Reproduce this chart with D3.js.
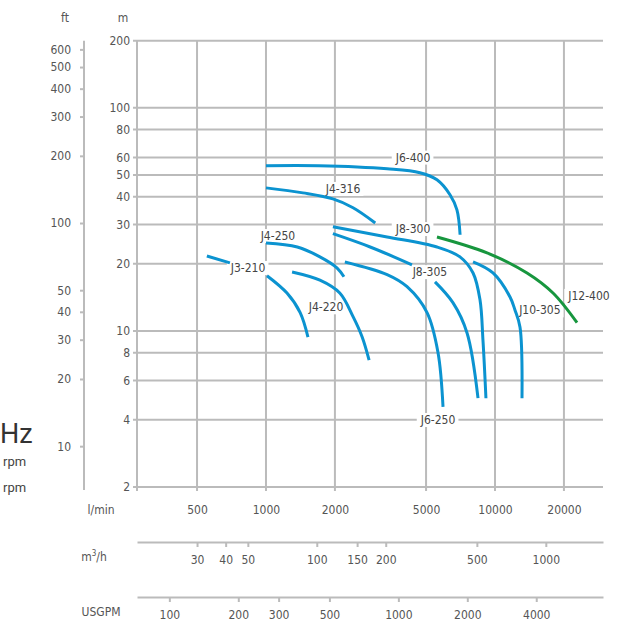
<!DOCTYPE html>
<html>
<head>
<meta charset="utf-8">
<script src="https://cdn.jsdelivr.net/npm/d3@7"></script>
<style>
  body { margin: 0; background: #fff; }
  text { font-family: "Liberation Sans Narrow", "DejaVu Sans Condensed", "Roboto Condensed", sans-serif; }
</style>
</head>
<body>
<script>
// tick values
const flowTicks = [500, 1000, 2000, 5000, 10000, 20000];        // l/min
const headTicks = [2, 4, 6, 8, 10, 20, 30, 40, 50, 60, 80, 100, 200]; // m
const feetTicks = [10, 20, 30, 40, 50, 100, 200, 300, 400, 500, 600];
const m3hTicks = [30, 40, 50, 100, 150, 200, 500, 1000];
const gpmTicks = [100, 200, 300, 500, 1000, 2000, 4000];

// pump curves, [l/min, m]
const j6_400 = [[1000, 55], [1700, 55], [3380, 53.3], [4700, 51.2], [5580, 47.6], [6360, 40.8], [6820, 34.9], [7040, 27]];
const j4_316 = [[1000, 43.8], [1450, 41.6], [1960, 39.1], [2400, 35.7], [3000, 30.5]];
const j4_250 = [[1000, 24.8], [1370, 23.8], [1720, 21.5], [2040, 19.2], [2190, 17.5]];
const j3_210a = [[552, 21.7], [696, 20.2]];
const j3_210b = [[1010, 17.7], [1235, 14.8], [1410, 12.1], [1525, 9.4]];
const j4_220 = [[1300, 18.4], [1720, 16.9], [2100, 14.8], [2400, 11.6], [2630, 9.4], [2820, 7.4]];
const j8_300 = [[1960, 29.3], [3380, 26.4], [5580, 23.8], [7030, 21.5], [8020, 18.2], [8600, 13.8], [8860, 9.1], [9130, 5.0]];
const j8_305a = [[1960, 27.3], [2850, 23.8], [4340, 19.8]];
const j8_305b = [[5470, 16.6], [6550, 13.4], [7550, 9.8], [8430, 5.0]];
const j6_250 = [[2210, 20.4], [3380, 17.9], [4130, 15.8], [5050, 12.1], [5640, 8.0], [5930, 4.57]];
const j10_305 = [[8020, 20.4], [9800, 18.2], [11630, 14.2], [12230, 12.4], [12860, 10.4], [13120, 5.0]];
const j12_400 = [[5580, 26.4], [9230, 22.4], [13800, 18.2], [17920, 14.8], [22810, 10.9]];

const blueCurves = [j6_400, j4_316, j4_250, j3_210a, j3_210b, j4_220, j8_300, j8_305a, j8_305b, j6_250, j10_305];
const greenCurves = [j12_400];

// curve names and where they sit, [name, l/min, m]
const curveLabels = [
  ['J6-400', 4385, 60], ['J4-316', 2170, 43.4], ['J4-250', 1128, 26.7],
  ['J3-210', 835, 19.2], ['J4-220', 1828, 12.8], ['J8-300', 4385, 28.7],
  ['J8-305', 5200, 18.4], ['J6-250', 5640, 4], ['J10-305', 15700, 12.4],
  ['J12-400', 25730, 14.4]
];

const W = 621, H = 630;
const svg = d3.select('body').append('svg').attr('width', W).attr('height', H);

const plotLeft = 137, plotRight = 603, plotTop = 40.7, plotBottom = 487;
const gridColor = '#bbbbbb';
const tickColor = '#555';
const fs = '12px';

const x = d3.scaleLog().domain([273.4, 29620]).range([plotLeft, plotRight]);
const y = d3.scaleLog().domain([2, 200]).range([plotBottom, plotTop]);
const yFt = d3.scaleLog().domain([2 / 0.3048, 200 / 0.3048]).range([plotBottom, plotTop]);
const xM3 = d3.scaleLog().domain(x.domain().map(q => q * 60 / 1000)).range(x.range());
const xGpm = d3.scaleLog().domain(x.domain().map(q => q / 3.785)).range(x.range());

// grid
const grid = svg.append('g');
grid.selectAll('.h').data(headTicks).enter().append('line')
  .attr('x1', plotLeft - 4).attr('x2', plotRight)
  .attr('y1', d => y(d)).attr('y2', d => y(d))
  .attr('stroke', gridColor).attr('stroke-width', 2);
grid.selectAll('.v').data(flowTicks).enter().append('line')
  .attr('x1', d => x(d)).attr('x2', d => x(d))
  .attr('y1', plotTop).attr('y2', plotBottom + 4)
  .attr('stroke', gridColor).attr('stroke-width', 2);
grid.append('line').attr('x1', plotLeft).attr('x2', plotLeft).attr('y1', plotTop).attr('y2', plotBottom + 4)
  .attr('stroke', gridColor).attr('stroke-width', 2);

function styleAxis(g) {
  g.selectAll('path.domain').attr('stroke', gridColor).attr('stroke-width', 2);
  g.selectAll('.tick line').attr('stroke', gridColor).attr('stroke-width', 2);
  g.selectAll('.tick text').attr('fill', tickColor).style('font-size', fs);
}

// m axis (labels only, grid already drawn)
const yAxisG = svg.append('g').attr('transform', `translate(${plotLeft},0)`)
  .call(d3.axisLeft(y).tickValues(headTicks).tickSize(0).tickPadding(7).tickFormat(d3.format('d')));
yAxisG.select('.domain').remove();
styleAxis(yAxisG);

// ft axis
const ftG = svg.append('g').attr('transform', 'translate(84,0)')
  .call(d3.axisLeft(yFt).tickValues(feetTicks).tickSize(4).tickPadding(9).tickFormat(d3.format('d')));
ftG.select('.domain').attr('d', `M0,${plotTop}V490`);
styleAxis(ftG);

// l/min axis
const xAxisG = svg.append('g').attr('transform', `translate(0,${plotBottom})`)
  .call(d3.axisBottom(x).tickValues(flowTicks).tickSize(0).tickPadding(18).tickFormat(d3.format('d')));
xAxisG.select('.domain').remove();
styleAxis(xAxisG);

// m3/h axis
const m3G = svg.append('g').attr('transform', 'translate(0,542)')
  .call(d3.axisBottom(xM3).tickValues(m3hTicks).tickSize(5).tickSizeOuter(0).tickPadding(8).tickFormat(d3.format('d')));
styleAxis(m3G);

// USGPM axis
const gpmG = svg.append('g').attr('transform', 'translate(0,597)')
  .call(d3.axisBottom(xGpm).tickValues(gpmTicks).tickSize(5).tickSizeOuter(0).tickPadding(8).tickFormat(d3.format('d')));
styleAxis(gpmG);

// unit titles
const unit = (t, px, py) => svg.append('text').attr('x', px).attr('y', py)
  .attr('text-anchor', 'middle').attr('fill', tickColor).style('font-size', fs).text(t);
unit('ft', 65, 22);
unit('m', 123, 22);
unit('l/min', 101, 514);
unit('USGPM', 101, 616);
const m3 = unit('m', 94, 561);
m3.append('tspan').attr('dy', -5).style('font-size', '8px').text('3');
m3.append('tspan').attr('dy', 5).text('/h');

// cut-off legend at the left edge
svg.append('text').attr('x', 0).attr('y', 443)
  .attr('fill', '#333').style('font-family', 'Roboto, sans-serif').style('font-size', '27px').text('Hz');
svg.append('text').attr('x', 3).attr('y', 466)
  .attr('fill', '#444').style('font-family', 'Roboto, sans-serif').style('font-size', '13px').text('rpm');
svg.append('text').attr('x', 3).attr('y', 492)
  .attr('fill', '#444').style('font-family', 'Roboto, sans-serif').style('font-size', '13px').text('rpm');

// curve labels with white knockout
const labelG = svg.append('g');
curveLabels.forEach(([name, q, h]) => {
  const g = labelG.append('g');
  const t = g.append('text').attr('x', x(q)).attr('y', y(h)).attr('dy', '0.35em')
    .attr('text-anchor', 'middle').attr('fill', '#444').style('font-size', fs).text(name);
  const b = t.node().getBBox();
  g.insert('rect', 'text').attr('x', b.x - 3).attr('y', b.y).attr('width', b.width + 6)
    .attr('height', b.height).attr('fill', '#fff');
});

// curves
const line = d3.line().x(d => x(d[0])).y(d => y(d[1])).curve(d3.curveCatmullRom.alpha(0.5));
svg.append('g').selectAll('path').data(blueCurves).enter().append('path')
  .attr('d', line).attr('fill', 'none').attr('stroke', '#0b93d0').attr('stroke-width', 3);
svg.append('g').selectAll('path').data(greenCurves).enter().append('path')
  .attr('d', line).attr('fill', 'none').attr('stroke', '#17963e').attr('stroke-width', 3);
</script>
</body>
</html>
